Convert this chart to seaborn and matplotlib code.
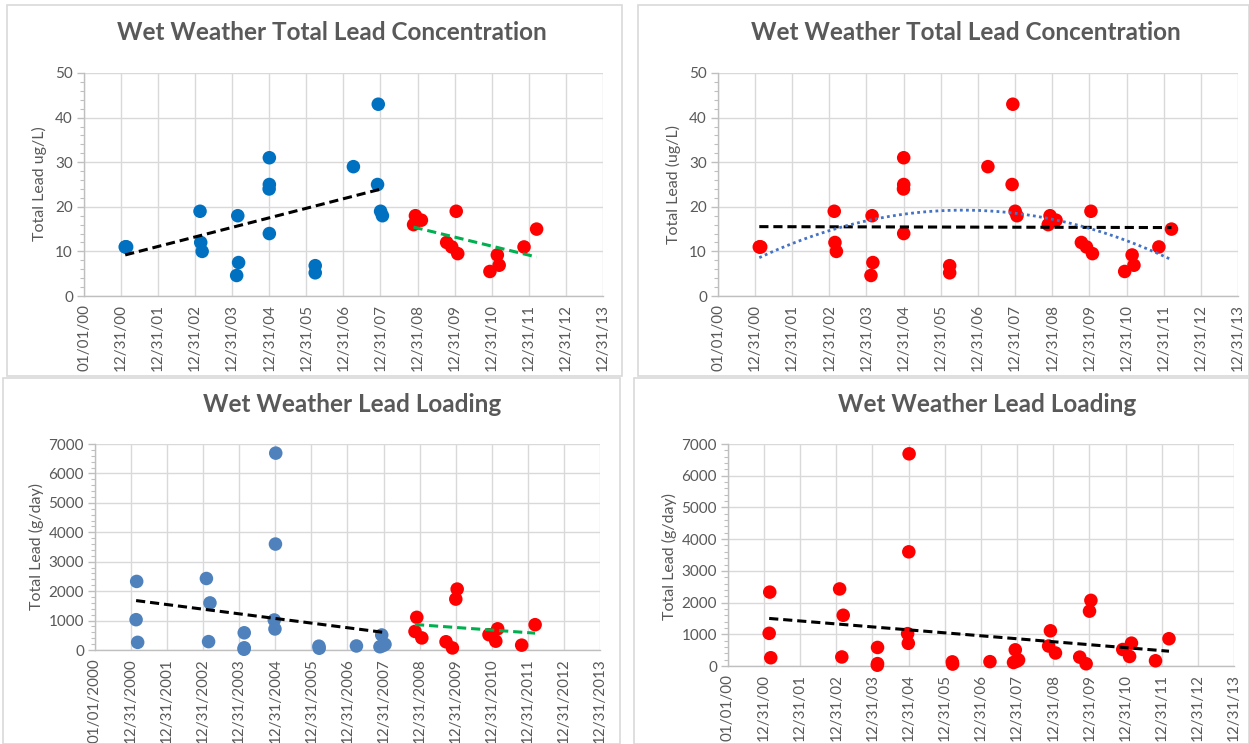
import numpy as np
import pandas as pd
import matplotlib
matplotlib.use('Agg')
import matplotlib.pyplot as plt
import matplotlib.dates as mdates
from matplotlib.ticker import MultipleLocator
from matplotlib.patches import Rectangle
import seaborn as sns

# Data
tick_dates = ['2000-01-01'] + ['%d-12-31' % y for y in range(2000, 2014)]
tick_labels_short = ['01/01/00'] + ['12/31/%02d' % (y % 100) for y in range(2000, 2014)]
tick_labels_long = ['01/01/2000'] + ['12/31/%d' % y for y in range(2000, 2014)]

# total lead concentration (ug/L), before / after 2008
conc_pre_dates = ['2001-02-10', '2001-02-17', '2001-02-24', '2003-02-17', '2003-02-24',
                  '2003-03-10', '2004-02-24', '2004-03-03', '2004-02-13', '2004-12-31',
                  '2004-12-31', '2004-12-29', '2004-12-31', '2006-03-28', '2006-03-28',
                  '2007-04-08', '2007-12-09', '2007-12-02', '2008-01-01', '2008-01-19']
conc_pre = [11, 11, 11, 19, 12, 10, 18, 7.5, 4.6, 31, 25, 24, 14, 6.8, 5.2, 29, 43, 25, 19, 18]

conc_post_dates = ['2008-12-09', '2009-02-06', '2008-11-21', '2010-01-15', '2009-10-13',
                   '2009-12-02', '2010-01-30', '2011-02-24', '2011-03-14', '2010-12-13',
                   '2011-11-14', '2012-03-17']
conc_post = [18, 17, 16, 19, 12, 11, 9.5, 9.2, 6.9, 5.5, 11, 15]

# total lead loading (g/day)
load_pre_dates = ['2001-02-26', '2001-02-20', '2001-03-08', '2003-02-02', '2003-03-10',
                  '2003-02-24', '2004-02-20', '2004-02-20', '2004-02-18', '2005-01-04',
                  '2005-01-01', '2004-12-20', '2004-12-27', '2006-03-17', '2006-03-20',
                  '2007-04-01', '2007-12-13', '2007-11-25', '2008-01-15', '2007-12-25']
load_pre = [2330, 1030, 260, 2430, 1600, 285, 585, 75, 25, 6690,
            3600, 1020, 715, 130, 60, 137, 510, 110, 190, 150]

load_post_dates = ['2008-12-02', '2008-11-14', '2009-01-22', '2009-09-24', '2009-11-28',
                   '2010-01-15', '2010-01-01', '2010-12-03', '2011-03-01', '2011-02-10',
                   '2011-10-30', '2012-03-14']
load_post = [1110, 630, 410, 280, 70, 2070, 1730, 520, 720, 300, 165, 860]


def to_num(dates):
    return mdates.date2num(pd.to_datetime(dates))


ticks = to_num(tick_dates)

sns.set_theme(style='white')
plt.rcParams['font.family'] = ['Lato', 'DejaVu Sans']

W, H = 1249, 744
fig = plt.figure(figsize=(W / 100, H / 100), dpi=100)

TXT = '#595959'
GRID = '#d9d9d9'
BLUE = '#0070C0'
BLUE2 = '#4F81BD'
RED = '#FF0000'
GREEN = '#00B050'
DASH = (0, (3, 1.6))


def px_axes(left, top, right, bottom):
    return fig.add_axes([left / W, 1 - bottom / H, (right - left) / W, (bottom - top) / H])


def style(ax, ymax, ystep, labels):
    ax.set_xlim(ticks[0], ticks[-1])
    ax.set_ylim(0, ymax)
    ax.set_xticks(ticks)
    ax.set_xticklabels(labels, rotation=90)
    ax.set_yticks(np.arange(0, ymax + 1, ystep))
    ax.yaxis.set_minor_locator(MultipleLocator(ystep / 5))
    ax.set_axisbelow(True)
    ax.grid(True, which='major', color=GRID, lw=1)
    for s in ['top', 'right']:
        ax.spines[s].set_visible(False)
    for s in ['left', 'bottom']:
        ax.spines[s].set_color('#bfbfbf')
        ax.spines[s].set_linewidth(1)
    ax.tick_params(axis='y', which='major', length=5, width=1, color='#bfbfbf',
                   labelsize=11, labelcolor=TXT, pad=3, left=True)
    ax.tick_params(axis='y', which='minor', length=3, width=0.8, color='#bfbfbf', left=True)
    ax.tick_params(axis='x', length=0, labelsize=11, labelcolor=TXT, pad=6)
    ax.set_xlabel('')
    ax.set_ylabel('')


def dots(ax, dates, vals, color):
    sns.scatterplot(x=to_num(dates), y=vals, color=color, s=95, edgecolor='none',
                    ax=ax, clip_on=False, zorder=3)


def trend(ax, dates, vals, color, order=1, ls=DASH, lw=2.2):
    sns.regplot(x=to_num(dates), y=np.array(vals, dtype=float), scatter=False, ci=None,
                order=order, truncate=True, ax=ax,
                line_kws=dict(color=color, ls=ls, lw=lw, zorder=4))


all_conc_dates = conc_pre_dates + conc_post_dates
all_conc = conc_pre + conc_post
all_load_dates = load_pre_dates + load_post_dates
all_load = load_pre + load_post

# panel frames
for (l, t, r, b) in [(7, 5, 622, 376), (638, 5, 1249, 376), (3, 378, 620, 744), (634, 378, 1249, 744)]:
    fig.patches.append(Rectangle((l / W, 1 - b / H), (r - l) / W, (b - t) / H,
                                 transform=fig.transFigure, fill=False,
                                 edgecolor=GRID, lw=1.2))

# top left
ax1 = px_axes(84, 73, 603, 296)
dots(ax1, conc_pre_dates, conc_pre, BLUE)
dots(ax1, conc_post_dates, conc_post, RED)
trend(ax1, conc_pre_dates, conc_pre, 'black')
trend(ax1, conc_post_dates, conc_post, GREEN)
style(ax1, 50, 10, tick_labels_short)

# top right
ax2 = px_axes(718, 73, 1238, 296)
dots(ax2, all_conc_dates, all_conc, RED)
trend(ax2, all_conc_dates, all_conc, 'black')
trend(ax2, all_conc_dates, all_conc, '#4472C4', order=2, ls=(0, (1, 1.2)), lw=2)
style(ax2, 50, 10, tick_labels_short)

# bottom left
ax3 = px_axes(95, 444, 600, 650)
dots(ax3, load_pre_dates, load_pre, BLUE2)
dots(ax3, load_post_dates, load_post, RED)
trend(ax3, load_pre_dates, load_pre, 'black')
trend(ax3, load_post_dates, load_post, GREEN)
style(ax3, 7000, 1000, tick_labels_long)

# bottom right
ax4 = px_axes(728, 444, 1234, 666)
dots(ax4, all_load_dates, all_load, RED)
trend(ax4, all_load_dates, all_load, 'black')
style(ax4, 7000, 1000, tick_labels_short)

# titles and axis labels
title_kw = dict(fontsize=17.5, fontweight='bold', color=TXT, ha='center', va='center')
fig.text(332 / W, 1 - 32 / H, 'Wet Weather Total Lead Concentration', **title_kw)
fig.text(966 / W, 1 - 32 / H, 'Wet Weather Total Lead Concentration', **title_kw)
fig.text(352 / W, 1 - 405 / H, 'Wet Weather Lead Loading', **title_kw)
fig.text(987 / W, 1 - 405 / H, 'Wet Weather Lead Loading', **title_kw)

ylab_kw = dict(fontsize=11.5, color=TXT, rotation=90, ha='center', va='center')
fig.text(39 / W, 1 - 184 / H, 'Total Lead ug/L)', **ylab_kw)
fig.text(673 / W, 1 - 184 / H, 'Total Lead (ug/L)', **ylab_kw)
fig.text(36 / W, 1 - 547 / H, 'Total Lead (g/day)', **ylab_kw)
fig.text(669 / W, 1 - 556 / H, 'Total Lead (g/day)', **ylab_kw)

fig.savefig('out.png', dpi=100)
